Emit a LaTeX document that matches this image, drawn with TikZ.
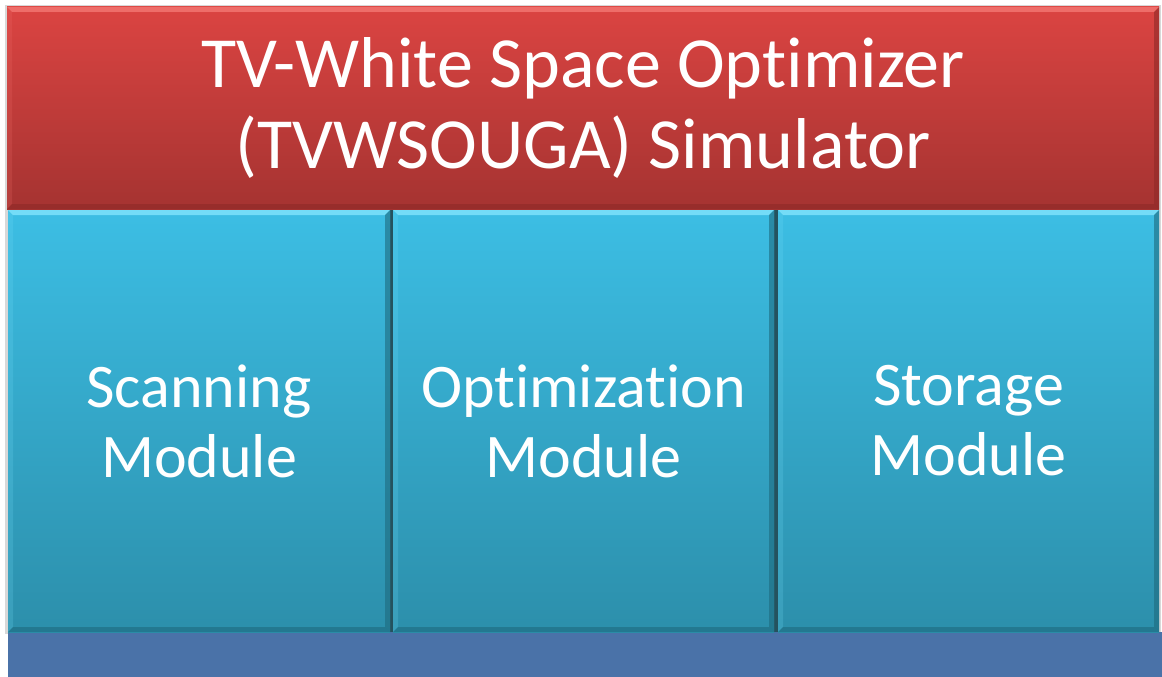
\documentclass[tikz,border=0pt]{standalone}
\usepackage{fontspec}
\setmainfont{Carlito}[Ligatures=NoCommon]
\definecolor{redtop}{HTML}{DB4442}
\definecolor{redbot}{HTML}{A53331}
\definecolor{redlight}{HTML}{EE6D69}
\definecolor{reddark}{HTML}{8E2927}
\definecolor{bluetop}{HTML}{3CBEE4}
\definecolor{bluebot}{HTML}{2C8FAB}
\definecolor{bluelight}{HTML}{74DCF7}
\definecolor{bluedark}{HTML}{1E6A7E}
\definecolor{gapdark}{HTML}{24525E}
\definecolor{basebar}{HTML}{4A72A8}
\newcommand{\bevelrect}[6]{%
  \fill[#5] (#1,#2) -- (#3,#2) -- ({#3-5},{#2+5}) -- ({#1+5},{#2+5}) -- cycle;
  \fill[#5,opacity=0.2] (#1,#2) -- ({#1+5},{#2+5}) -- ({#1+5},{#4-5}) -- (#1,#4) -- cycle;
  \fill[#6,opacity=0.6] (#3,#2) -- (#3,#4) -- ({#3-5},{#4-5}) -- ({#3-5},{#2+5}) -- cycle;
  \fill[#6,opacity=0.6] (#1,#4) -- (#3,#4) -- ({#3-5},{#4-5}) -- ({#1+5},{#4-5}) -- cycle;
}
\tikzset{
  plate/.style={rectangle, inner sep=0pt, outer sep=0pt, text=white, align=center},
  titlebox/.style={plate, top color=redtop, bottom color=redbot,
    font=\fontsize{72}{81}\selectfont},
  modbox/.style={plate, top color=bluetop, bottom color=bluebot,
    font=\fontsize{62}{70}\selectfont},
  basebox/.style={rectangle, inner sep=0pt, outer sep=0pt, fill=basebar}
}
\begin{document}
\begin{tikzpicture}[x=1pt,y=-1pt]
\useasboundingbox (0,0) rectangle (1162,677);
\fill[white] (0,0) rectangle (1162,677);
% faint drop shadow
\fill[black!30,opacity=0.5] (5,5) rectangle (1161,634);
\fill[gapdark] (388,210) rectangle (394,632);
\fill[gapdark] (773,210) rectangle (779,632);
\node[basebox, minimum width=1154pt, minimum height=45pt] (base) at (585,654.5) {};
\node[titlebox, minimum width=1152pt, minimum height=202pt] (title) at (583,108)
  {TV-White Space Optimizer\\(TVWSOUGA) Simulator};
\bevelrect{7}{7}{1159}{209}{redlight}{reddark}
\node[modbox, minimum width=382pt, minimum height=422pt] (scan) at (199,421)
  {Scanning\\Module};
\bevelrect{8}{210}{390}{632}{bluelight}{bluedark}
\node[modbox, minimum width=381pt, minimum height=422pt] (opt) at (583.5,421)
  {Optimization\\Module};
\bevelrect{393}{210}{774}{632}{bluelight}{bluedark}
\node[modbox, minimum width=381pt, minimum height=422pt] (stor) at (968.5,421)
  {Storage\\Module};
\bevelrect{778}{210}{1159}{632}{bluelight}{bluedark}
\end{tikzpicture}
\end{document}
